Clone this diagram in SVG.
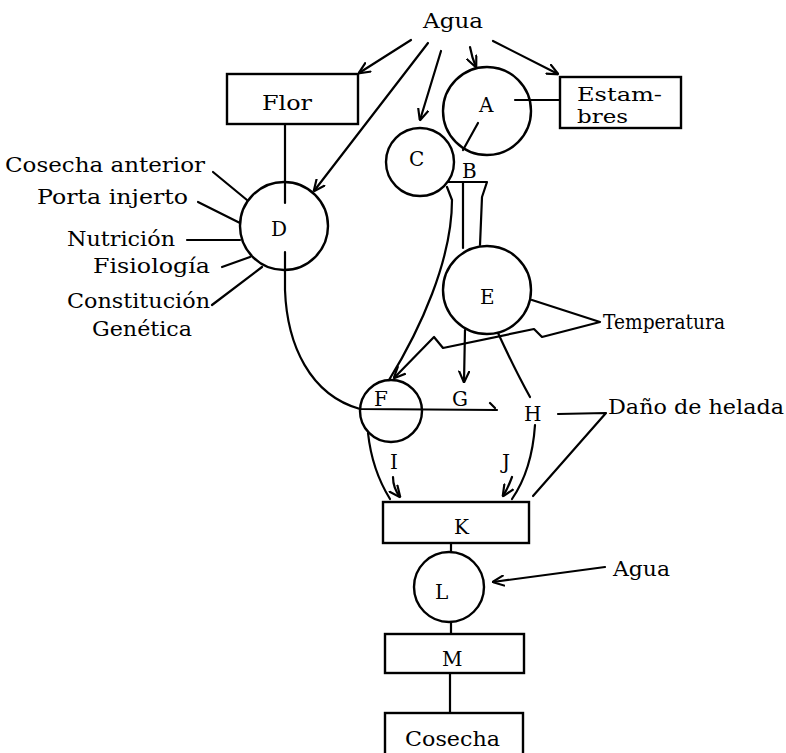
<svg xmlns="http://www.w3.org/2000/svg" width="786" height="753" viewBox="0 0 786 753">
<style>
.ln{fill:none;stroke:#000;stroke-width:2.2;stroke-linecap:round;stroke-linejoin:round}
.box{fill:#fff;stroke:#000;stroke-width:2.4}
.cir{fill:none;stroke:#000;stroke-width:2.4}
.t{font-family:"DejaVu Serif","Liberation Serif",serif;font-size:20px;fill:#000}
.lt{font-family:"DejaVu Serif","Liberation Serif",serif;font-size:20px;fill:#000}
.st{font-family:"DejaVu Serif","Liberation Serif",serif;font-size:18px;fill:#000}
</style>
<defs>
<marker id="arr" viewBox="0 0 10 10" refX="9.5" refY="5" markerWidth="12" markerHeight="12" markerUnits="userSpaceOnUse" orient="auto">
<path d="M0,0.5 L10,5 L0,9.5" fill="none" stroke="#000" stroke-width="1.8"/>
</marker>
</defs>
<rect width="786" height="753" fill="#fff"/>
<g id="connectors">
<path class="ln" d="M411,40 L359,73" marker-end="url(#arr)"/>
<path class="ln" d="M428,43 L314,191" marker-end="url(#arr)"/>
<path class="ln" d="M441,51 L420,120" marker-end="url(#arr)"/>
<path class="ln" d="M470,47 Q472,58 476,67" marker-end="url(#arr)"/>
<path class="ln" d="M493,41 L558,74" marker-end="url(#arr)"/>
<path class="ln" d="M285,124 L285,203"/>
<path class="ln" d="M560,100 L515,100"/>
<path class="ln" d="M478,123 L463,150"/>
<path class="ln" d="M213,172 L247,200"/>
<path class="ln" d="M198,202 L240,223"/>
<path class="ln" d="M187,240 L240,240"/>
<path class="ln" d="M222,267 L250,257"/>
<path class="ln" d="M212,305 L262,267"/>
<path class="ln" d="M285,252 L285,290 C287,345 310,395 360,409 L497,410 M490,403 L495,408"/>
<path class="ln" d="M448,182 L487,182 L482,197 L480,245"/>
<path class="ln" d="M463,182 L463,248"/>
<path class="ln" d="M447,187 L452,200 C452,260 420,330 389,380"/>
<path class="ln" d="M532,300 L600,322 L542,337 L534,329 L443,348 L434,337 L394,378" marker-end="url(#arr)"/>
<path class="ln" d="M465,330 L464,382" marker-end="url(#arr)"/>
<path class="ln" d="M498,333 Q515,370 530,397"/>
<path class="ln" d="M558,414 L606,413 L533,496"/>
<path class="ln" d="M368,433 Q372,470 390,499"/>
<path class="ln" d="M535,425 Q532,470 512,499"/>
<path class="ln" d="M393,477 Q393,488 400,497" marker-end="url(#arr)"/>
<path class="ln" d="M512,477 Q508,488 503,496" marker-end="url(#arr)"/>
<path class="ln" d="M451,543 L451,552"/>
<path class="ln" d="M605,567 L493,582" marker-end="url(#arr)"/>
<path class="ln" d="M451,622 L451,634"/>
<path class="ln" d="M450,673 L450,713"/>
</g>
<g id="agua-top"><text class="t" x="423" y="28" textLength="60" lengthAdjust="spacingAndGlyphs">Agua</text></g>
<g id="flor"><rect class="box" x="227" y="74" width="131" height="50"/><text class="t" x="262" y="110" textLength="50" lengthAdjust="spacingAndGlyphs">Flor</text></g>
<g id="estambres"><rect class="box" x="560" y="77" width="121" height="51"/><text class="st" x="577" y="101" textLength="85" lengthAdjust="spacingAndGlyphs">Estam-</text><text class="st" x="577" y="123" textLength="51" lengthAdjust="spacingAndGlyphs">bres</text></g>
<g id="nodeA"><circle class="cir" cx="487" cy="111" r="44"/><text class="lt" x="479" y="112">A</text></g>
<g id="nodeC"><circle class="cir" cx="420" cy="162" r="34"/><text class="lt" x="409" y="166">C</text></g>
<g id="nodeB"><text class="lt" x="462" y="178">B</text></g>
<g id="nodeD"><circle class="cir" cx="284" cy="226" r="44"/><text class="lt" x="271" y="236">D</text></g>
<g id="nodeE"><circle class="cir" cx="487" cy="290" r="44"/><text class="lt" x="480" y="304">E</text></g>
<g id="nodeF"><circle class="cir" cx="391" cy="411" r="31"/><text class="lt" x="374" y="406">F</text></g>
<g id="nodeG"><text class="lt" x="452" y="406">G</text></g>
<g id="nodeH"><text class="lt" x="524" y="421">H</text></g>
<g id="nodeI"><text class="lt" x="390" y="469">I</text></g>
<g id="nodeJ"><text class="lt" x="502" y="469">J</text></g>
<g id="nodeK"><rect class="box" x="383" y="502" width="146" height="41"/><text class="lt" x="454" y="534">K</text></g>
<g id="nodeL"><circle class="cir" cx="449" cy="587" r="35"/><text class="lt" x="435" y="599">L</text></g>
<g id="nodeM"><rect class="box" x="385" y="634" width="139" height="39"/><text class="lt" x="442" y="666">M</text></g>
<g id="cosecha"><rect class="box" x="385" y="713" width="138" height="60"/><text class="t" x="405" y="746" textLength="95" lengthAdjust="spacingAndGlyphs">Cosecha</text></g>
<g id="labels-left">
<text class="t" x="5" y="172" textLength="200" lengthAdjust="spacingAndGlyphs">Cosecha anterior</text>
<text class="t" x="37" y="204" textLength="151" lengthAdjust="spacingAndGlyphs">Porta injerto</text>
<text class="t" x="67" y="246" textLength="108" lengthAdjust="spacingAndGlyphs">Nutrición</text>
<text class="t" x="93" y="273" textLength="117" lengthAdjust="spacingAndGlyphs">Fisiología</text>
<text class="t" x="67" y="308" textLength="143" lengthAdjust="spacingAndGlyphs">Constitución</text>
<text class="t" x="92" y="336" textLength="100" lengthAdjust="spacingAndGlyphs">Genética</text>
</g>
<g id="temperatura"><text class="t" x="603" y="329" textLength="122" lengthAdjust="spacingAndGlyphs" style="font-size:21px">Temperatura</text></g>
<g id="helada"><text class="t" x="608" y="414" textLength="176" lengthAdjust="spacingAndGlyphs">Daño de helada</text></g>
<g id="agua-low"><text class="t" x="613" y="576" textLength="57" lengthAdjust="spacingAndGlyphs">Agua</text></g>
</svg>
